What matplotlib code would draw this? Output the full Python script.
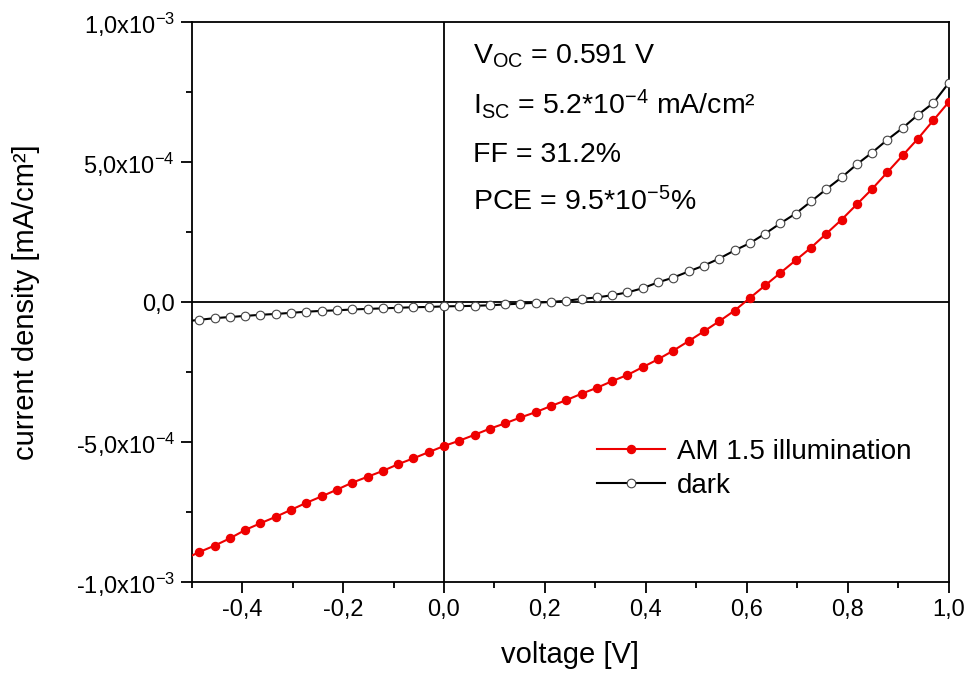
import matplotlib
matplotlib.use("Agg")
import matplotlib.pyplot as plt
from matplotlib.ticker import FixedLocator, FixedFormatter

plt.rcParams['font.family'] = ['Liberation Sans', 'DejaVu Sans']
plt.rcParams['mathtext.fontset'] = 'custom'
plt.rcParams['mathtext.rm'] = 'Liberation Sans'
plt.rcParams['mathtext.it'] = 'Liberation Sans'

# voltage [V]; first entry is the line start (no marker drawn there)
voltage = [-0.5,
           -0.4848, -0.4545, -0.4242, -0.3939, -0.3636, -0.3333, -0.3030, -0.2727,
           -0.2424, -0.2121, -0.1818, -0.1515, -0.1212, -0.0909, -0.0606, -0.0303,
           0.0, 0.0303, 0.0606, 0.0909, 0.1212, 0.1515, 0.1818, 0.2121,
           0.2424, 0.2727, 0.3030, 0.3333, 0.3636, 0.3939, 0.4242, 0.4545,
           0.4848, 0.5152, 0.5455, 0.5758, 0.6061, 0.6364, 0.6667, 0.6970,
           0.7273, 0.7576, 0.7879, 0.8182, 0.8485, 0.8788, 0.9091, 0.9394,
           0.9697, 1.0]

# AM 1.5 illumination, current density in 1e-4 mA/cm2
light = [-9.06,
         -8.93, -8.70, -8.44, -8.14, -7.90, -7.67, -7.42, -7.17,
         -6.94, -6.70, -6.45, -6.24, -6.03, -5.79, -5.58, -5.36,
         -5.14, -4.95, -4.74, -4.52, -4.33, -4.12, -3.93, -3.71,
         -3.50, -3.27, -3.06, -2.82, -2.60, -2.32, -2.04, -1.73,
         -1.39, -1.04, -0.68, -0.30, 0.15, 0.60, 1.05, 1.50,
         1.95, 2.45, 2.95, 3.50, 4.05, 4.65, 5.25, 5.85,
         6.50, 7.15]

# dark, current density in 1e-5 mA/cm2
dark = [-6.6,
        -6.3, -5.7, -5.3, -4.9, -4.5, -4.2, -3.8, -3.4,
        -3.1, -2.9, -2.6, -2.4, -2.2, -2.0, -1.8, -1.7,
        -1.5, -1.4, -1.3, -1.1, -0.8, -0.5, -0.2, 0.1,
        0.5, 1.2, 1.7, 2.5, 3.5, 5.0, 7.1, 8.8,
        11.0, 13.1, 15.6, 18.5, 21.1, 24.5, 28.2, 31.7,
        36.0, 40.4, 44.6, 49.3, 53.5, 58.1, 62.3, 67.0,
        71.2, 78.3]

light_j = [v * 1e-4 for v in light]
dark_j = [v * 1e-5 for v in dark]

x_ticks = [-0.4, -0.2, 0.0, 0.2, 0.4, 0.6, 0.8, 1.0]
x_labels = ['-0,4', '-0,2', '0,0', '0,2', '0,4', '0,6', '0,8', '1,0']
y_ticks = [-1e-3, -5e-4, 0.0, 5e-4, 1e-3]
y_labels = [r'-1,0x10$^{-3}$', r'-5,0x10$^{-4}$', '0,0', r'5,0x10$^{-4}$', r'1,0x10$^{-3}$']

info_lines = [r'V$_{\mathrm{OC}}$ = 0.591 V',
              r'I$_{\mathrm{SC}}$ = 5.2*10$^{-4}$ mA/cm²',
              'FF = 31.2%',
              r'PCE = 9.5*10$^{-5}$%']

fig = plt.figure(figsize=(9.68, 6.75), dpi=100)
ax = fig.add_axes([0.198, 0.1378, 0.782, 0.829])

ax.axhline(0, color='black', lw=1.3, zorder=1)
ax.axvline(0, color='black', lw=1.3, zorder=1)

ax.plot(voltage, light_j, color='#ee0000', lw=1.5, marker='o', ms=5.8,
        markevery=slice(1, None), mfc='#ee0000', mec='#ee0000',
        label='AM 1.5 illumination', zorder=3)
ax.plot(voltage, dark_j, color='black', lw=1.5, marker='o', ms=6.2,
        markevery=slice(1, None), mfc='white', mec='#444444', mew=0.8,
        label='dark', zorder=3)

ax.set_xlim(-0.5, 1.0)
ax.set_ylim(-1e-3, 1e-3)

ax.xaxis.set_major_locator(FixedLocator(x_ticks))
ax.xaxis.set_major_formatter(FixedFormatter(x_labels))
ax.xaxis.set_minor_locator(FixedLocator([-0.5, -0.3, -0.1, 0.1, 0.3, 0.5, 0.7, 0.9]))
ax.yaxis.set_major_locator(FixedLocator(y_ticks))
ax.yaxis.set_major_formatter(FixedFormatter(y_labels))
ax.yaxis.set_minor_locator(FixedLocator([-7.5e-4, -2.5e-4, 2.5e-4, 7.5e-4]))

ax.tick_params(which='both', direction='out', width=1.3, labelsize=17,
               top=False, right=False, pad=4)
ax.tick_params(which='major', length=8)
ax.tick_params(which='minor', length=4.5)
for s in ax.spines.values():
    s.set_linewidth(1.3)

ax.set_xlabel('voltage [V]', fontsize=21)
ax.set_ylabel('current density [mA/cm²]', fontsize=21)
ax.xaxis.set_label_coords(0.5, -0.105)
ax.yaxis.set_label_coords(-0.201, 0.5)

ax.legend(loc='center left', bbox_to_anchor=(0.536, 0.2025), frameon=False,
          fontsize=20, handlelength=2.45, handletextpad=0.4, labelspacing=0.3,
          borderaxespad=0, borderpad=0)

# annotation rows, baselines in pixels from the top
baselines = [64, 114, 162, 210]
for txt, b in zip(info_lines, baselines):
    fig.text(473 / 968, 1 - b / 675, txt, fontsize=20.5, va='baseline', ha='left')

fig.savefig('out.png', dpi=100)
